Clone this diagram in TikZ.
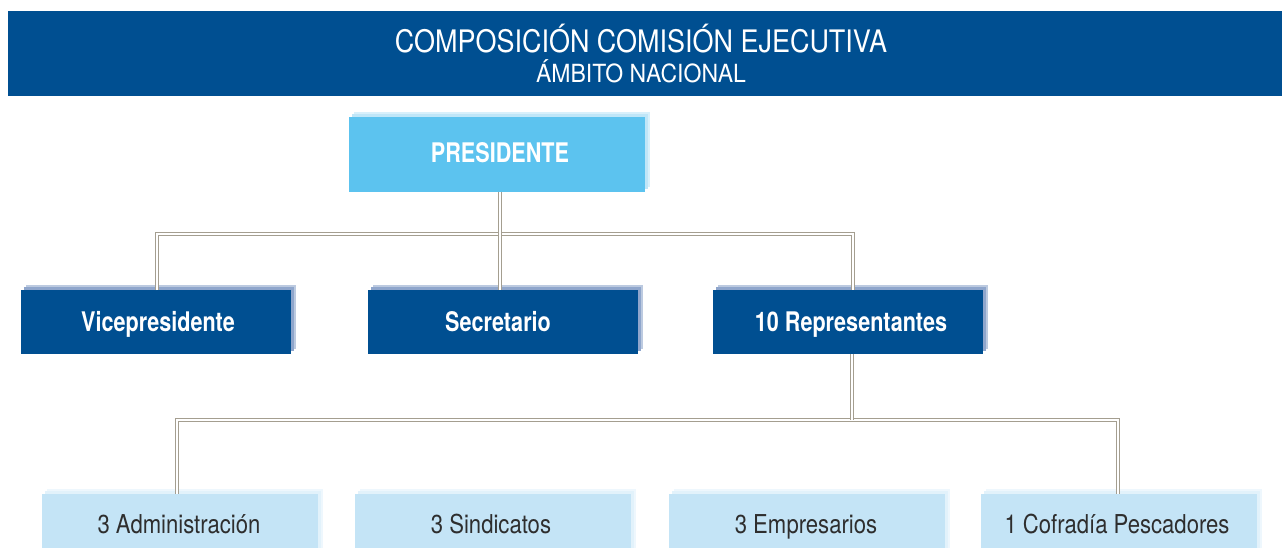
\documentclass[tikz,border=0pt]{standalone}
\usepackage{fontspec}
\setmainfont{TeX Gyre Heros}[FakeStretch=0.8]
\newfontfamily\titlefont{TeX Gyre Heros}[FakeStretch=0.87]
\newfontfamily\subtitlefont{TeX Gyre Heros}[FakeStretch=0.92]
\newfontfamily\palefont{TeX Gyre Heros}[FakeStretch=0.85]
\usetikzlibrary{calc}
\definecolor{navy}{HTML}{004F91}
\definecolor{navyShadow}{HTML}{8FA6CC}
\definecolor{sky}{HTML}{5CC3EF}
\definecolor{skyShadow}{HTML}{BFE6F8}
\definecolor{pale}{HTML}{C4E4F6}
\definecolor{paleShadow}{HTML}{E2F2FB}
\definecolor{lineGray}{HTML}{A49E90}
\definecolor{textGray}{HTML}{2E2E2E}
\tikzset{
  boxbase/.style={inner sep=0pt, outer sep=0pt, text depth=0pt},
  topbox/.style={boxbase, fill=sky, minimum width=296pt, minimum height=75pt},
  darkbox/.style={boxbase, fill=navy, minimum width=270pt, minimum height=64pt},
  palebox/.style={boxbase, fill=pale, minimum width=276pt, minimum height=62pt},
  boldlabel/.style={text=white, font=\bfseries\fontsize{27}{27}\selectfont, anchor=base},
  palelabel/.style={text=textGray, font=\palefont\fontsize{26}{26}\selectfont, anchor=base},
  conn/.style={draw=lineGray, line width=1pt, double=white, double distance=1.6pt},
}
\newcommand{\shadowof}[2]{%
  \fill[#2!60!white] ($(#1.south west)+(5,-5)$) rectangle ($(#1.north east)+(5,-5)$);
  \fill[#2] ($(#1.south west)+(3,-3)$) rectangle ($(#1.north east)+(3,-3)$);
}
\begin{document}
\begin{tikzpicture}[x=1pt,y=-1pt]
\useasboundingbox (0,0) rectangle (1282,548);
% header
\node[boxbase, fill=navy, minimum width=1274pt, minimum height=85pt] (header) at (645,53.5) {};
\node[text=white, font=\titlefont\fontsize{31}{31}\selectfont, anchor=base, inner sep=0pt] (title) at (641,53) {COMPOSICIÓN COMISIÓN EJECUTIVA};
\node[text=white, font=\subtitlefont\fontsize{25}{25}\selectfont, anchor=base, inner sep=0pt] (subtitle) at (641,83) {ÁMBITO NACIONAL};

% coordinates of boxes
\coordinate (cpres) at (497,155);
\coordinate (cvp) at (156,322);
\coordinate (csec) at (503,322);
\coordinate (crep) at (847.5,322);
\coordinate (cb1) at (180,525);
\coordinate (cb2) at (492.5,525);
\coordinate (cb3) at (807,525);
\coordinate (cb4) at (1119,525);

% shadows (drawn first)
\path (cpres) node[topbox] (presS) {};
\shadowof{presS}{skyShadow}
\path (cvp) node[darkbox] (vpS) {};
\shadowof{vpS}{navyShadow}
\path (csec) node[darkbox] (secS) {};
\shadowof{secS}{navyShadow}
\path (crep) node[darkbox] (repS) {};
\shadowof{repS}{navyShadow}
\foreach \b in {1,2,3,4}{
  \path (cb\b) node[palebox] (bS\b) {};
  \shadowof{bS\b}{paleShadow}
}

% boxes
\node[topbox] (pres) at (cpres) {};
\node[darkbox] (vp) at (cvp) {};
\node[darkbox] (sec) at (csec) {};
\node[darkbox] (rep) at (crep) {};
\node[palebox] (b1) at (cb1) {};
\node[palebox] (b2) at (cb2) {};
\node[palebox] (b3) at (cb3) {};
\node[palebox] (b4) at (cb4) {};

% labels
\node[boldlabel] (presL) at (500,163) {PRESIDENTE};
\node[boldlabel] (vpL) at (158,331) {Vicepresidente};
\node[boldlabel] (secL) at (498,331) {Secretario};
\node[boldlabel] (repL) at (851,331) {10 Representantes};
\node[palelabel] (b1L) at (179,533) {3 Administración};
\node[palelabel] (b2L) at (491,533) {3 Sindicatos};
\node[palelabel] (b3L) at (806,533) {3 Empresarios};
\node[palelabel] (b4L) at (1117,533) {1 Cofradía Pescadores};

% connectors
\coordinate (j1) at (500,234);
\coordinate (j2) at (852,420);
\draw[conn] ($(vp.north)+(1,0)$) |- (j1) -| ($(rep.north)+(5.5,0)$);
\draw[conn] (pres.south -| j1) -- (sec.north -| j1);
\draw[conn] ($(b1.north)+(-3,0)$) |- (j2) -| ($(b4.north)+(-1,0)$);
\draw[conn] (rep.south -| j2) -- (j2);
\draw[conn] ($(b2.north)+(-2.5,0)$) -- ($(b2.north)+(-2.5,0)$ |- j2);
\draw[conn] ($(b3.north)+(-1,0)$) -- ($(b3.north)+(-1,0)$ |- j2);
\end{tikzpicture}
\end{document}
